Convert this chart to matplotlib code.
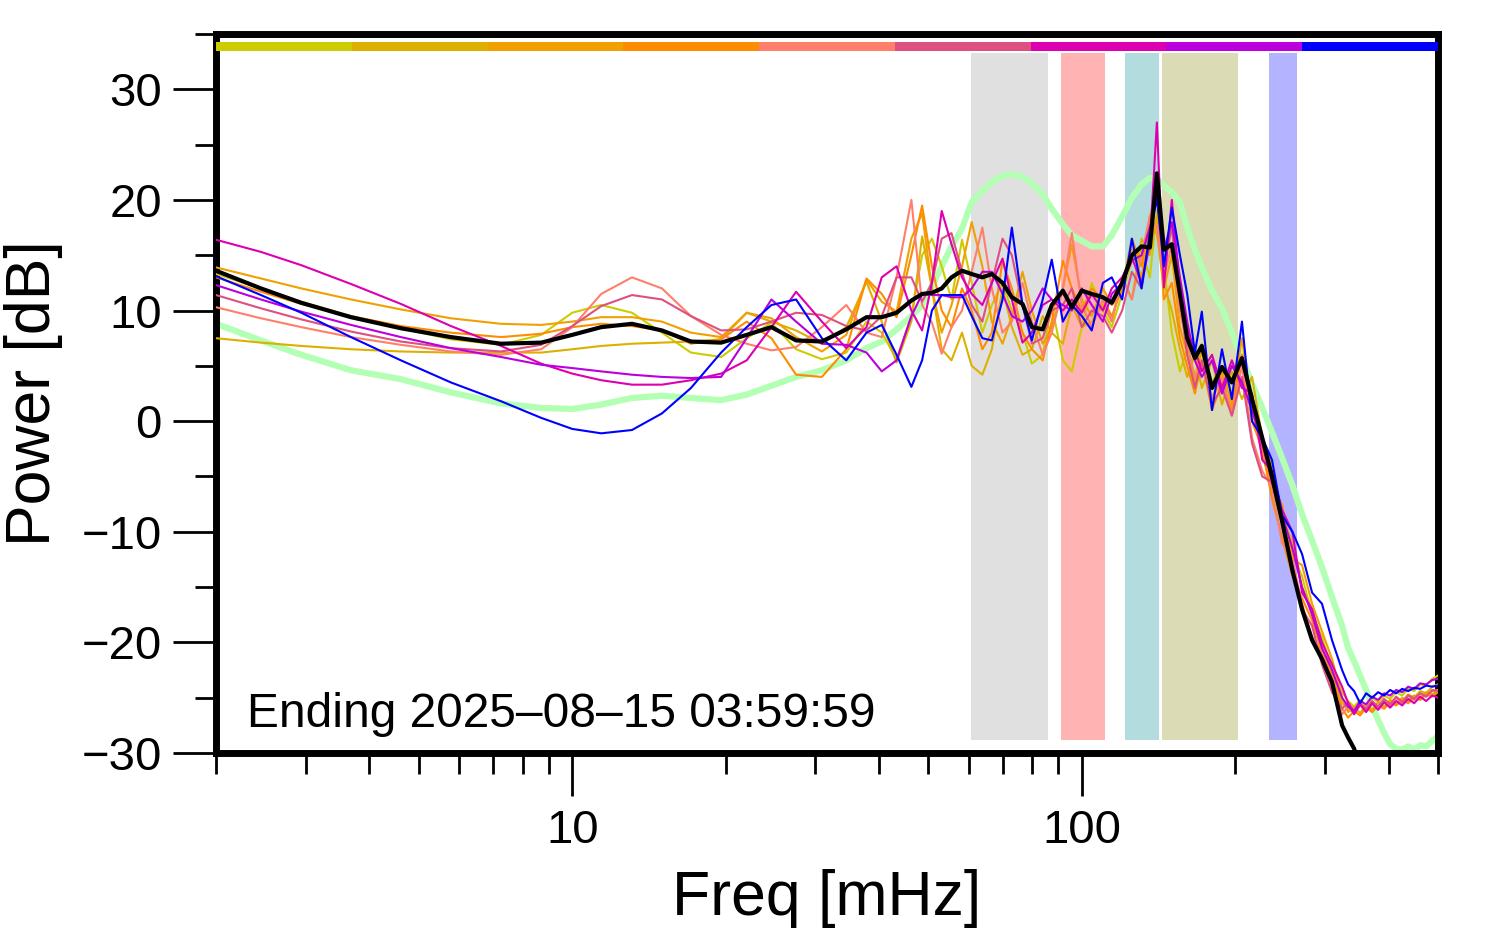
import numpy as np
import matplotlib
matplotlib.use("Agg")
import matplotlib.pyplot as plt
import matplotlib.ticker as ticker
from matplotlib.patches import Rectangle

plt.rcParams['font.family'] = ['Liberation Sans', 'DejaVu Sans']

# Frequency grid [mHz]
freq = [2.0, 2.45, 2.94, 3.68, 4.61, 5.78, 7.25, 8.69, 10.0, 11.4,
        13.1, 15.0, 17.1, 19.6, 22.0, 24.6, 27.5, 30.9, 34.5, 37.8,
        40.5, 43.3, 46.3, 48.6, 50.8, 53.1, 55.5, 58.2, 60.8, 63.8,
        66.6, 69.9, 72.9, 76.5, 79.8, 83.8, 87.3, 91.8, 95.6, 100.0,
        104.6, 110.0, 114.5, 120.0, 125.4, 131.0, 136.0, 140.4, 144.9, 150.2,
        155.8, 161.0, 166.7, 172.0, 180.1, 188.4, 197.0, 206.2, 215.8, 226.0,
        236.2, 247.1, 259.0, 270.5, 283.1, 296.0, 309.8,
        324.2, 333.1, 342.3, 351.7, 361.4, 371.3, 381.5, 392.0, 402.8,
        413.9, 425.3, 437.0, 449.0, 461.3, 474.0, 487.1, 500.0]

# Hourly spectra [dB], oldest -> newest
p_yellow = [13.3, 12.0, 10.8, 9.5, 8.4, 7.4, 6.9, 7.8, 9.8, 10.5,
            9.8, 8.0, 6.2, 5.8, 7.5, 8.9, 6.5, 5.6, 6.2, 9.0,
            8.0, 5.6, 9.5, 15.0, 16.5, 14.0, 11.0, 16.4, 12.5, 8.0,
            10.5, 12.5, 10.0, 8.0, 5.2, 6.0, 10.5, 5.5, 4.5, 8.5,
            12.5, 10.0, 8.5, 11.5, 14.5, 15.5, 13.0, 19.0, 14.0, 8.0,
            4.5, 6.5, 4.0, 7.0, 3.5, 5.0, 2.5, 6.0, 1.5, -2.0,
            -5.5, -9.5, -12.0, -14.0, -17.5, -19.5, -22.5,
            -24.5, -25.3, -25.8, -25.2, -25.7, -25.0, -25.4, -24.8, -25.1,
            -24.5, -24.8, -24.2, -24.4, -23.8, -23.9, -23.3, -23.0]
p_gold = [7.5, 7.1, 6.8, 6.5, 6.3, 6.2, 6.2, 6.2, 6.5, 6.8,
          7.0, 7.1, 7.2, 7.4, 9.8, 9.0, 8.2, 7.0, 8.5, 12.6,
          9.0, 5.3, 9.0, 16.7, 12.0, 6.5, 5.5, 8.0, 5.0, 4.2,
          6.5, 12.0, 8.5, 6.0, 6.5, 9.5, 8.0, 7.0, 10.5, 8.5,
          9.0, 10.5, 9.0, 13.0, 11.0, 16.5, 15.0, 18.5, 12.5, 10.0,
          6.5, 4.0, 6.0, 3.0, 5.5, 1.5, 4.5, 2.0, 4.0, -1.5,
          -4.0, -8.5, -11.0, -15.0, -17.0, -20.5, -23.0,
          -25.5, -26.0, -26.4, -25.7, -26.1, -25.5, -25.9, -25.2, -25.6,
          -25.0, -25.3, -24.7, -25.0, -24.4, -24.6, -24.0, -23.8]
p_amber = [13.9, 12.9, 12.0, 11.0, 10.1, 9.3, 8.8, 8.7, 9.0, 9.4,
           9.4, 9.0, 8.0, 7.6, 9.8, 9.3, 7.6, 6.3, 7.8, 12.8,
           10.8, 9.9, 16.5, 18.8, 12.0, 8.0, 10.5, 14.0, 18.0, 14.0,
           9.0, 7.0, 9.5, 13.5, 10.0, 7.0, 8.5, 12.0, 16.0, 11.0,
           9.5, 12.0, 10.5, 11.5, 15.5, 13.0, 17.5, 17.0, 12.0, 15.0,
           8.5, 6.0, 3.5, 6.5, 2.0, 4.5, 1.5, 7.5, 1.0, -3.0,
           -6.0, -7.5, -12.5, -13.0, -16.5, -19.0, -21.5,
           -25.0, -26.3, -25.8, -26.4, -25.6, -26.1, -25.4, -25.8, -25.2,
           -25.6, -25.0, -25.3, -24.8, -25.0, -24.5, -24.7, -24.3]
p_orange = [13.0, 11.7, 10.6, 9.5, 8.6, 8.0, 7.6, 7.9, 8.5, 8.8,
            8.6, 8.2, 7.0, 7.4, 9.0, 7.5, 4.2, 4.0, 6.5, 12.9,
            11.5, 9.4, 15.0, 19.5, 14.0, 10.0, 8.5, 12.0, 10.0, 6.5,
            8.0, 14.5, 12.0, 8.0, 6.5, 5.5, 9.0, 14.5, 12.0, 10.0,
            12.0, 11.0, 9.5, 12.0, 16.5, 14.0, 18.5, 20.5, 11.0, 12.5,
            7.5, 5.0, 2.5, 5.5, 1.0, 3.5, 1.0, 6.0, 0.0, -2.5,
            -7.0, -10.5, -14.0, -16.0, -18.0, -21.0, -23.0,
            -26.0, -26.8, -26.2, -26.6, -25.9, -26.3, -25.7, -26.0, -25.4,
            -25.7, -25.2, -25.5, -25.0, -25.2, -24.7, -24.9, -24.5]
p_salmon = [10.3, 9.3, 8.5, 7.6, 6.9, 6.3, 6.0, 6.5, 8.5, 11.5,
            13.0, 12.0, 9.5, 7.8, 7.0, 6.4, 6.7, 8.5, 10.5, 8.0,
            7.6, 13.0, 20.0, 10.5, 8.9, 6.1, 8.5, 10.0, 13.5, 17.5,
            12.0, 8.0, 9.0, 12.5, 9.0, 6.0, 8.0, 12.0, 17.0, 10.5,
            8.5, 11.0, 9.0, 13.0, 11.0, 15.0, 18.5, 17.5, 13.0, 16.0,
            10.0, 7.0, 4.0, 5.0, 2.0, 4.0, 0.5, 5.0, -1.5, -4.5,
            -6.0, -11.0, -12.5, -16.5, -19.5, -21.0, -24.0,
            -26.5, -25.8, -26.4, -25.6, -26.2, -25.4, -25.9, -25.2, -25.7,
            -25.0, -25.5, -24.8, -25.2, -24.6, -24.9, -24.4, -24.3]
p_rose = [11.4, 10.2, 9.2, 8.1, 7.2, 6.6, 6.3, 6.9, 8.6, 10.4,
          11.4, 11.0, 9.5, 8.2, 8.3, 9.0, 9.8, 9.6, 8.6, 8.2,
          9.5, 13.0, 13.0, 10.8, 12.5, 16.5, 17.0, 13.5, 10.5, 9.0,
          12.5, 16.5, 15.0, 10.5, 7.0, 7.5, 10.0, 10.5, 12.0, 8.5,
          10.0, 9.5, 8.0, 10.0, 13.5, 12.0, 16.5, 21.0, 14.0, 17.5,
          11.0, 6.0, 3.0, 5.5, 1.5, 3.0, 0.5, 4.0, -2.0, -5.0,
          -5.5, -9.0, -13.0, -17.0, -18.5, -22.0, -24.5,
          -26.0, -25.4, -26.2, -25.5, -26.0, -25.3, -25.8, -25.1, -25.6,
          -24.9, -25.4, -24.8, -25.1, -24.6, -24.9, -24.3, -24.4]
p_magenta = [16.4, 15.3, 14.1, 12.4, 10.6, 8.6, 6.8, 5.2, 4.3, 3.7,
             3.3, 3.3, 3.7, 4.3, 5.5, 8.5, 11.7, 9.0, 6.6, 8.5,
             13.0, 14.0, 10.0, 8.2, 12.5, 19.0, 16.0, 13.0, 11.5, 10.5,
             12.5, 14.7, 11.0, 7.1, 8.0, 10.5, 11.0, 10.0, 11.0, 9.8,
             11.5, 10.0, 12.0, 13.0, 14.8, 12.5, 16.0, 27.0, 12.1, 20.0,
             12.0, 8.2, 6.5, 4.5, 6.0, 3.0, 5.5, 3.0, 2.5, -3.5,
             -4.5, -8.0, -10.0, -15.5, -17.0, -20.0, -22.0,
             -24.0, -25.5, -26.5, -25.6, -26.3, -25.5, -26.1, -25.4, -25.9,
             -25.3, -25.7, -25.1, -25.5, -24.9, -25.3, -24.8, -25.0]
p_purple = [12.3, 11.0, 9.9, 8.7, 7.6, 6.6, 5.8, 5.1, 4.8, 4.5,
            4.2, 4.0, 3.9, 4.0, 7.5, 11.0, 9.0, 7.0, 6.9, 6.2,
            4.5, 5.5, 9.5, 11.5, 11.4, 11.4, 11.2, 11.2, 12.0, 13.5,
            13.5, 11.5, 9.5, 9.0, 10.0, 12.0, 11.0, 10.5, 10.0, 12.0,
            10.5, 9.0, 11.5, 12.5, 14.5, 15.0, 17.5, 20.0, 15.5, 18.0,
            13.0, 9.0, 5.5, 4.0, 5.5, 2.5, 5.0, 3.5, 1.0, -2.0,
            -5.5, -8.5, -11.5, -15.0, -17.5, -20.5, -22.5,
            -25.0, -25.8, -26.2, -25.3, -25.6, -24.9, -25.2, -24.6, -24.8,
            -24.3, -24.5, -24.0, -24.2, -23.7, -23.8, -23.4, -23.3]
p_blue = [13.1, 11.4, 9.8, 7.6, 5.5, 3.5, 1.8, 0.3, -0.7, -1.1,
          -0.8, 0.7, 3.0, 6.2, 8.5, 10.5, 11.0, 7.5, 5.5, 8.0,
          8.7, 6.0, 3.1, 5.5, 10.0, 11.4, 11.4, 11.4, 9.5, 7.5,
          7.3, 11.0, 17.5, 10.5, 7.3, 11.0, 14.6, 9.0, 10.5, 9.5,
          8.2, 12.5, 13.0, 11.0, 16.5, 12.0, 17.0, 20.2, 14.0, 19.3,
          15.0, 11.5, 6.2, 9.9, 1.0, 6.5, 2.0, 9.0, 0.0, -1.5,
          -3.5, -8.5, -10.0, -12.0, -15.5, -16.5, -19.8,
          -22.5, -23.8, -24.4, -25.5, -24.6, -25.0, -24.5, -24.8, -24.3,
          -24.6, -24.2, -24.4, -24.1, -24.2, -23.9, -24.0, -23.9]

# Mean of the hours, and reference spectrum
p_mean = [13.6, 12.0, 10.7, 9.4, 8.4, 7.6, 7.0, 7.1, 7.8, 8.5,
          8.8, 8.2, 7.2, 7.1, 7.8, 8.5, 7.3, 7.2, 8.3, 9.4,
          9.4, 9.8, 10.9, 11.5, 11.6, 12.0, 13.0, 13.6, 13.3, 13.0,
          13.3, 12.5, 11.2, 10.6, 8.5, 8.3, 10.5, 11.8, 10.3, 11.8,
          11.5, 11.2, 10.7, 12.5, 15.0, 15.8, 15.7, 22.4, 15.5, 16.0,
          11.5, 7.5, 5.7, 6.8, 3.0, 4.9, 3.5, 5.7, 2.0, -1.5,
          -5.0, -9.0, -13.5, -17.0, -19.8, -21.5, -23.6,
          -27.5, -28.6, -29.6, -31.5, np.nan, np.nan, np.nan, np.nan, np.nan,
          np.nan, np.nan, np.nan, np.nan, np.nan, np.nan, np.nan, np.nan]
p_ref = [8.8, 7.3, 6.0, 4.6, 3.8, 2.6, 1.6, 1.2, 1.1, 1.5,
         2.1, 2.3, 2.1, 1.9, 2.4, 3.2, 4.0, 4.6, 5.5, 6.6,
         7.2, 8.3, 9.5, 10.5, 12.2, 14.0, 15.8, 17.4, 19.8, 20.8,
         21.6, 22.2, 22.3, 22.1, 21.5, 20.5, 19.2, 17.8, 16.8, 16.3,
         15.8, 15.8, 16.8, 18.5, 20.2, 21.4, 22.0, 21.9, 21.3, 20.7,
         19.8, 17.5, 15.5, 13.9, 11.8, 10.2, 8.0, 5.7, 3.4, 1.2,
         -1.0, -3.3, -5.8, -8.4, -10.8, -13.2, -15.9,
         -18.5, -20.5, -21.7, -23.0, -24.3, -25.8, -27.0, -28.2, -29.2,
         -29.6, -29.7, -29.4, -29.7, -29.3, -29.4, -28.9, -28.5]

spectra = [p_yellow, p_gold, p_amber, p_orange, p_salmon,
           p_rose, p_magenta, p_purple, p_blue]
colors = ['#cccc00', '#ddb000', '#f0a000', '#ff8c00', '#ff7f6a',
          '#dd5080', '#dd00b0', '#bb00dd', '#0000ff']

# Shaded bands [mHz] and their colours
bands = [(60.5, 86.0), (91.0, 111.0), (121.5, 142.0), (143.5, 203.0), (233.0, 264.0)]
band_colors = ['#e0e0e0', '#ffb3b3', '#b3dcdf', '#dbdbb5', '#b3b3ff']

label_text = 'Ending 2025\u201308\u201315 03:59:59'

# Plot
fig = plt.figure(figsize=(14.94, 9.52), dpi=100)
ax = fig.add_axes([0.1446, 0.209, 0.8179, 0.7553])

for (f0, f1), c in zip(bands, band_colors):
    ax.axvspan(f0, f1, ymin=0.018, ymax=0.974, color=c, lw=0, zorder=0)

ax.plot(freq, p_ref, color='#b3ffb3', lw=4.5, zorder=2)
for spec, c in zip(spectra, colors):
    ax.plot(freq, spec, color=c, lw=1.5, zorder=3)
ax.plot(freq, p_mean, color='black', lw=3, zorder=4)

# colour key along the top
for i, c in enumerate(colors):
    ax.add_patch(Rectangle((i / len(colors), 0.976), 1 / len(colors), 0.013,
                           transform=ax.transAxes, color=c, lw=0, zorder=5))

ax.set_xscale('log')
ax.set_xlim(2, 500)
ax.set_ylim(-30, 35)

ax.xaxis.set_major_locator(ticker.LogLocator(base=10))
ax.xaxis.set_minor_locator(ticker.LogLocator(base=10, subs=np.arange(2, 10)))
ax.xaxis.set_major_formatter(ticker.FormatStrFormatter('%g'))
ax.xaxis.set_minor_formatter(ticker.NullFormatter())
ax.yaxis.set_major_locator(ticker.MultipleLocator(10))
ax.yaxis.set_minor_locator(ticker.MultipleLocator(5))

ax.tick_params(which='major', length=31, width=2, labelsize=34, pad=8)
ax.tick_params(which='minor', length=15, width=2)
ax.tick_params(axis='x', which='major', pad=9)
for s in ax.spines.values():
    s.set_linewidth(5)

ax.set_xlabel('Freq [mHz]', fontsize=45, labelpad=12)
ax.set_ylabel('Power [dB]', fontsize=45, labelpad=13)

ax.text(0.025, 0.036, label_text, transform=ax.transAxes, fontsize=34.5,
        va='baseline', ha='left', zorder=6)

plt.savefig('out.png', dpi=100)
